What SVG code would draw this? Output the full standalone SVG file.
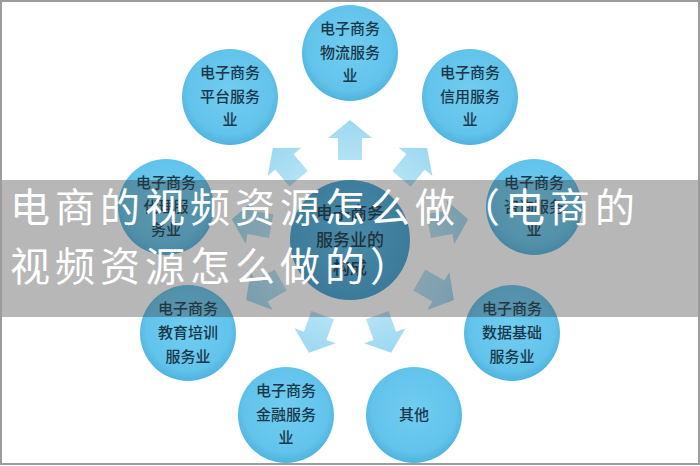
<svg xmlns="http://www.w3.org/2000/svg" width="700" height="466" viewBox="0 0 700 466">
<defs>
<radialGradient id="gc" cx="50%" cy="45%" r="55%">
<stop offset="0%" stop-color="#72cdf0"/>
<stop offset="80%" stop-color="#62c3eb"/>
<stop offset="100%" stop-color="#4fb3de"/>
</radialGradient>
<radialGradient id="gm" cx="50%" cy="45%" r="55%">
<stop offset="0%" stop-color="#55bbea"/>
<stop offset="100%" stop-color="#3e9fd0"/>
</radialGradient>
<linearGradient id="ga" x1="0" y1="1" x2="0" y2="0">
<stop offset="0%" stop-color="#b3e2f5"/>
<stop offset="100%" stop-color="#9dd8f1"/>
</linearGradient>
</defs>
<style>
.n{fill:url(#gc);}
.t{font-family:"Noto Sans CJK SC","Noto Sans",sans-serif;font-size:15px;font-weight:500;fill:#18374a;text-anchor:middle;}
.ct{font-family:"Noto Sans CJK SC","Noto Sans",sans-serif;font-size:17px;font-weight:500;fill:#13303f;text-anchor:middle;}
.ar{fill:url(#ga);}
.bt{font-family:"Noto Sans CJK SC","Noto Sans",sans-serif;font-size:40px;fill:#ffffff;letter-spacing:5px;}
</style>
<rect x="0" y="0" width="700" height="466" fill="#ffffff"/>
<g id="connectors">
<path id="ar0" class="ar" d="M350 120 L372 138 L362 138 L362 160 L338 160 L338 138 L328 138 Z"/>
<use href="#ar0" transform="rotate(40 350 240)"/>
<use href="#ar0" transform="rotate(80 350 240)"/>
<use href="#ar0" transform="rotate(120 350 240)"/>
<use href="#ar0" transform="rotate(160 350 240)"/>
<use href="#ar0" transform="rotate(200 350 240)"/>
<use href="#ar0" transform="rotate(240 350 240)"/>
<use href="#ar0" transform="rotate(280 350 240)"/>
<use href="#ar0" transform="rotate(320 350 240)"/>
</g>
<g id="node-center">
<circle cx="350" cy="240" r="60" fill="url(#gm)"/>
<text class="ct" x="350" y="219">电子商务</text>
<text class="ct" x="350" y="246">服务业的</text>
<text class="ct" x="350" y="274">构成</text>
</g>
<g id="node-logistics">
<circle class="n" cx="350" cy="53" r="48"/>
<text class="t" x="350" y="34">电子商务</text>
<text class="t" x="350" y="58">物流服务</text>
<text class="t" x="350" y="81">业</text>
</g>
<g id="node-credit">
<circle class="n" cx="470" cy="97" r="48"/>
<text class="t" x="470" y="78">电子商务</text>
<text class="t" x="470" y="102">信用服务</text>
<text class="t" x="470" y="125">业</text>
</g>
<g id="node-consult">
<circle class="n" cx="534" cy="207" r="48"/>
<text class="t" x="534" y="188">电子商务</text>
<text class="t" x="534" y="212">咨询服务</text>
<text class="t" x="534" y="235">业</text>
</g>
<g id="node-data">
<circle class="n" cx="512" cy="333" r="48"/>
<text class="t" x="512" y="314">电子商务</text>
<text class="t" x="512" y="338">数据基础</text>
<text class="t" x="512" y="362">服务业</text>
</g>
<g id="node-other">
<circle class="n" cx="414" cy="415" r="48"/>
<text class="t" x="414" y="420">其他</text>
</g>
<g id="node-finance">
<circle class="n" cx="286" cy="415" r="48"/>
<text class="t" x="286" y="396">电子商务</text>
<text class="t" x="286" y="420">金融服务</text>
<text class="t" x="286" y="443">业</text>
</g>
<g id="node-education">
<circle class="n" cx="188" cy="333" r="48"/>
<text class="t" x="188" y="314">电子商务</text>
<text class="t" x="188" y="338">教育培训</text>
<text class="t" x="188" y="362">服务业</text>
</g>
<g id="node-agent">
<circle class="n" cx="166" cy="207" r="48"/>
<text class="t" x="166" y="188">电子商务</text>
<text class="t" x="166" y="212">代理服</text>
<text class="t" x="166" y="235">务业</text>
</g>
<g id="node-platform">
<circle class="n" cx="230" cy="97" r="48"/>
<text class="t" x="230" y="78">电子商务</text>
<text class="t" x="230" y="102">平台服务</text>
<text class="t" x="230" y="125">业</text>
</g>
<g id="banner">
<rect x="0" y="180" width="700" height="137" fill="#383838" fill-opacity="0.36"/>
<text class="bt" x="10" y="222">电商的视频资源怎么做（电商的</text>
<text class="bt" x="10" y="281">视频资源怎么做的）</text>
</g>
<rect x="1" y="1" width="698" height="463" fill="none" stroke="#9c9c9c" stroke-width="2"/>
</svg>
